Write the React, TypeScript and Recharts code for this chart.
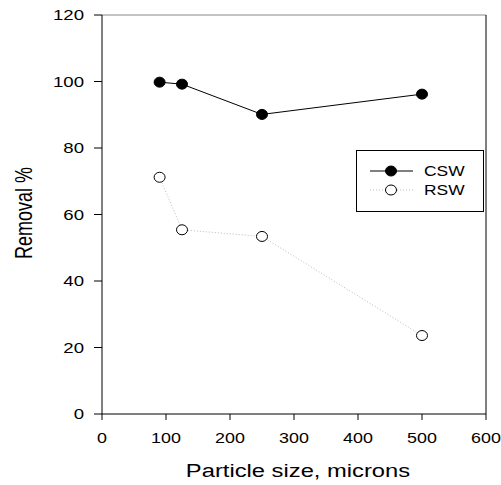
import React from "react";
import {
  Legend,
  Line,
  LineChart,
  ReferenceLine,
  XAxis,
  YAxis,
  Label
} from "recharts";

const particleSize = [90, 125, 250, 500];
const cswRemoval = [99.8, 99.2, 90.1, 96.2];
const rswRemoval = [71.2, 55.4, 53.4, 23.6];
const xTicks = [0, 100, 200, 300, 400, 500, 600];
const yTicks = [0, 20, 40, 60, 80, 100, 120];

const data = particleSize.map((size, i) => ({
  size,
  csw: cswRemoval[i],
  rsw: rswRemoval[i]
}));

const FONT = "'Liberation Sans', Arial, sans-serif";

function YTick({ x, y, payload }: any) {
  return (
    <text
      transform={`translate(${x},${y + 5}) scale(1.33,1)`}
      textAnchor="end"
      fontSize={14}
      fontFamily={FONT}
      fill="#000"
    >
      {payload.value}
    </text>
  );
}

function XTick({ x, y, payload }: any) {
  return (
    <text
      transform={`translate(${x},${y + 23}) scale(1.28,1)`}
      textAnchor="middle"
      fontSize={14}
      fontFamily={FONT}
      fill="#000"
    >
      {payload.value}
    </text>
  );
}

function FilledDot({ cx, cy }: any) {
  return <ellipse cx={cx} cy={cy} rx={5.5} ry={5} fill="#000" stroke="#000" />;
}

function OpenDot({ cx, cy }: any) {
  return <ellipse cx={cx} cy={cy} rx={5.5} ry={5} fill="#fff" stroke="#000" strokeWidth={1} />;
}

function LegendBox({ payload }: any) {
  const items = payload || [];
  return (
    <svg width={128} height={62} style={{ display: "block" }}>
      <rect x={0.5} y={0.5} width={127} height={61} fill="#fff" stroke="#000" />
      {items.map((item: any, i: number) => {
        const cy = 21 + i * 19;
        const filled = item.dataKey === "csw";
        return (
          <g key={item.value}>
            <line
              x1={14}
              x2={57}
              y1={cy}
              y2={cy}
              stroke={filled ? "#000" : "#bbb"}
              strokeDasharray={filled ? undefined : "1 2"}
            />
            <ellipse
              cx={35}
              cy={cy}
              rx={5.5}
              ry={5}
              fill={filled ? "#000" : "#fff"}
              stroke="#000"
            />
            <text
              transform={`translate(68,${cy + 5}) scale(1.2,1)`}
              fontSize={14.5}
              fontFamily={FONT}
              fill="#000"
            >
              {item.value}
            </text>
          </g>
        );
      })}
    </svg>
  );
}

export default function App() {
  return (
    <div style={{ position: "absolute", left: 0, top: 0, background: "#fff" }}>
      <LineChart
        width={501}
        height={485}
        data={data}
        margin={{ top: 15, right: 15, bottom: 0, left: 0 }}
      >
        <XAxis
          dataKey="size"
          type="number"
          domain={[0, 600]}
          ticks={xTicks}
          interval={0}
          height={71}
          tickSize={6}
          tickMargin={0}
          stroke="#000"
          tick={<XTick />}
          allowDataOverflow
        >
          <Label
            content={({ viewBox }: any) => (
              <text
                transform={`translate(${viewBox.x + viewBox.width / 2 + 4},${viewBox.y + 63}) scale(1.32,1)`}
                textAnchor="middle"
                fontSize={18}
                fontFamily={FONT}
                fill="#000"
              >
                Particle size, microns
              </text>
            )}
          />
        </XAxis>
        <YAxis
          type="number"
          domain={[0, 120]}
          ticks={yTicks}
          interval={0}
          width={102}
          tickSize={8}
          tickMargin={10}
          stroke="#000"
          tick={<YTick />}
        >
          <Label
            content={() => (
              <text
                transform="translate(32,213) scale(1.3,1) rotate(-90)"
                textAnchor="middle"
                fontSize={18}
                fontFamily={FONT}
                fill="#000"
              >
                Removal %
              </text>
            )}
          />
        </YAxis>
        <ReferenceLine y={120} stroke="#888" />
        <ReferenceLine x={600} stroke="#000" />
        <Legend
          layout="horizontal"
          verticalAlign="middle"
          align="center"
          wrapperStyle={{ position: "absolute", left: 356, top: 150, width: 128, height: 62 }}
          content={<LegendBox />}
        />
        <Line
          dataKey="csw"
          name="CSW"
          stroke="#000"
          strokeWidth={1}
          dot={<FilledDot />}
          isAnimationActive={false}
        />
        <Line
          dataKey="rsw"
          name="RSW"
          stroke="#bbb"
          strokeWidth={1}
          strokeDasharray="1 2"
          dot={<OpenDot />}
          isAnimationActive={false}
        />
      </LineChart>
    </div>
  );
}
